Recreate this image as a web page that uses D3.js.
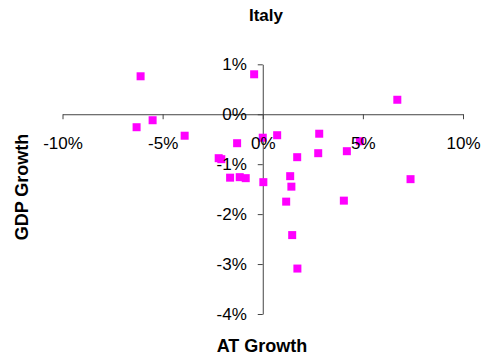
<!DOCTYPE html>
<html>
<head>
<meta charset="utf-8">
<script src="https://cdn.jsdelivr.net/npm/d3@7"></script>
<style>
  body { margin: 0; background: #fff; }
  svg { display: block; font-family: "Liberation Sans", Arial, sans-serif; }
</style>
</head>
<body>
<div id="chart"></div>
<script>
// AT growth (x, %) vs GDP growth (y, %)
const atGrowth = [-6.1, -0.43, -5.5, -6.3, -3.9, -1.28, 0.0, -2.2, -2.07, -1.63, -1.15, -0.85, 0.03,
  6.72, 0.72, 2.82, 4.85, 2.77, 4.2, 1.72, 1.37, 1.43, 7.38, 1.17, 4.05, 1.47, 1.73];
const gdpGrowth = [0.76, 0.80, -0.12, -0.26, -0.43, -0.58, -0.47, -0.88, -0.90, -1.27, -1.26, -1.28, -1.36,
  0.29, -0.42, -0.39, -0.54, -0.78, -0.74, -0.86, -1.24, -1.45, -1.30, -1.75, -1.73, -2.42, -3.09];
const xTicks = [-10, -5, 0, 5, 10];
const yTicks = [1, 0, -1, -2, -3, -4];

const W = 486, H = 360;
const svg = d3.select('#chart').append('svg')
  .attr('width', W)
  .attr('height', H);

// Scales
const x = d3.scaleLinear().domain([-10, 10]).range([62.5, 463]);
const y = d3.scaleLinear().domain([-4, 1]).range([314, 64.3]);

const pct = d => d + '%';
const axisColor = '#444';

// Axis lines and ticks (no labels)
const xLine = svg.append('g')
  .attr('transform', `translate(0,${y(0)})`)
  .call(d3.axisBottom(x).tickValues(xTicks).tickSize(5).tickSizeOuter(0).tickFormat(''));
const yLine = svg.append('g')
  .attr('transform', `translate(${x(0)},0)`)
  .call(d3.axisLeft(y).tickValues(yTicks).tickSize(5).tickSizeOuter(0).tickFormat(''));
[xLine, yLine].forEach(g => {
  g.select('.domain').attr('stroke', axisColor);
  g.selectAll('line').attr('stroke', axisColor);
});

// Points
svg.append('g').selectAll('rect')
  .data(atGrowth.map((v, i) => ({ x: v, y: gdpGrowth[i] })))
  .join('rect')
  .attr('x', d => x(d.x) - 4)
  .attr('y', d => y(d.y) - 4)
  .attr('width', 8)
  .attr('height', 8)
  .attr('fill', '#ff00ff');

// Tick labels drawn on top
const xLab = svg.append('g')
  .attr('transform', `translate(0,${y(0)})`)
  .call(d3.axisBottom(x).tickValues(xTicks).tickSize(5).tickPadding(17.5).tickFormat(pct));
const yLab = svg.append('g')
  .attr('transform', `translate(${x(0)},0)`)
  .call(d3.axisLeft(y).tickValues(yTicks).tickSize(5).tickPadding(11).tickFormat(pct));
[xLab, yLab].forEach(g => {
  g.select('.domain').remove();
  g.selectAll('line').remove();
  g.selectAll('text')
    .attr('font-family', '"Liberation Sans", Arial, sans-serif')
    .attr('font-size', 17)
    .attr('fill', '#000');
});

// Title
svg.append('text')
  .attr('x', 266)
  .attr('y', 21)
  .attr('text-anchor', 'middle')
  .attr('font-size', 17)
  .attr('font-weight', 'bold')
  .text('Italy');

// Axis titles
svg.append('text')
  .attr('x', 262)
  .attr('y', 352)
  .attr('text-anchor', 'middle')
  .attr('font-size', 18)
  .attr('font-weight', 'bold')
  .text('AT Growth');

svg.append('text')
  .attr('transform', 'translate(28,187) rotate(-90)')
  .attr('text-anchor', 'middle')
  .attr('font-size', 18)
  .attr('font-weight', 'bold')
  .text('GDP Growth');
</script>
</body>
</html>
